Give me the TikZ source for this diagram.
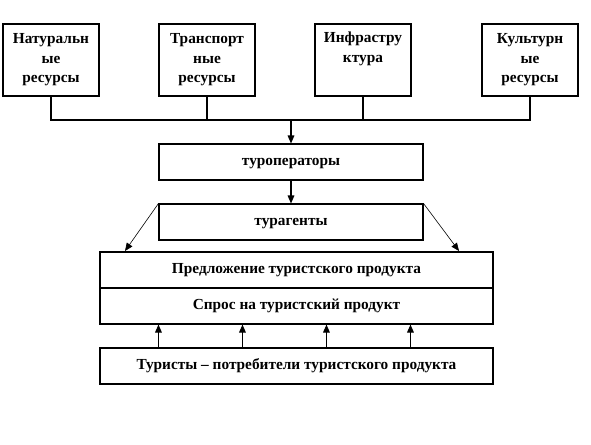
\documentclass[tikz,border=0pt]{standalone}
\usepackage{fontspec}
\setmainfont{Liberation Serif}
\usetikzlibrary{positioning,arrows.meta,calc}
\tikzset{
  res/.style={draw,line width=0.8pt,align=center,minimum width=72pt,minimum height=54pt,inner sep=2pt,font=\fontsize{11.5}{14.6}\selectfont\bfseries},
  wide/.style={draw,line width=0.8pt,align=center,minimum height=27pt,inner sep=2pt,text height=0.7em,text depth=0.22em,font=\fontsize{11.5}{14}\selectfont\bfseries},
  arr/.style={-{Triangle[length=6pt,width=5pt]},line width=0.8pt},
  darr/.style={-{Triangle[length=6pt,width=5pt]},line width=0.45pt},
}
\begin{document}
\begin{tikzpicture}[x=0.75pt,y=-0.75pt]
  \useasboundingbox (0,0) rectangle (591,444);
  % resources
  \node[res] (nat) at (51,60) {Натуральн\\ые\\ресурсы};
  \node[res] (trans) at (207,60) {Транспорт\\ные\\ресурсы};
  \node[res] (infra) at (363,60) {Инфрастру\\ктура\\\strut};
  \node[res] (cult) at (530,60) {Культурн\\ые\\ресурсы};
  % middle chain
  \node[wide,minimum width=198pt] (tourop) at (291,162) {туроператоры};
  \node[wide,minimum width=198pt] (agent) at (291,222) {турагенты};
  \node[wide,minimum width=294.75pt] (offer) at (296.5,270) {Предложение туристского продукта};
  \node[wide,minimum width=294.75pt] (demand) at (296.5,306) {Спрос на туристский продукт};
  \node[wide,minimum width=294.75pt] (tour) at (296.5,366) {Туристы – потребители туристского продукта};
  \coordinate (bus) at (291,120);
  \coordinate (offl) at (125,251);
  \coordinate (offr) at (459,251);
  % connectors
  \draw[line width=0.8pt] (nat.south) -- (nat.south |- bus) -- (cult.south |- bus) -- (cult.south);
  \draw[line width=0.8pt] (trans.south) -- (trans.south |- bus);
  \draw[line width=0.8pt] (infra.south) -- (infra.south |- bus);
  \draw[arr] (bus) -- (tourop.north);
  \draw[arr] (tourop.south) -- (agent.north);
  \draw[darr] (agent.north west) -- (offl);
  \draw[darr] (agent.north east) -- (offr);
  \foreach \s in {44.25pt,107.25pt,170.25pt,233.25pt}
    \draw[arr] ([xshift=\s]tour.north west) -- ([xshift=\s]demand.south west);
\end{tikzpicture}
\end{document}
